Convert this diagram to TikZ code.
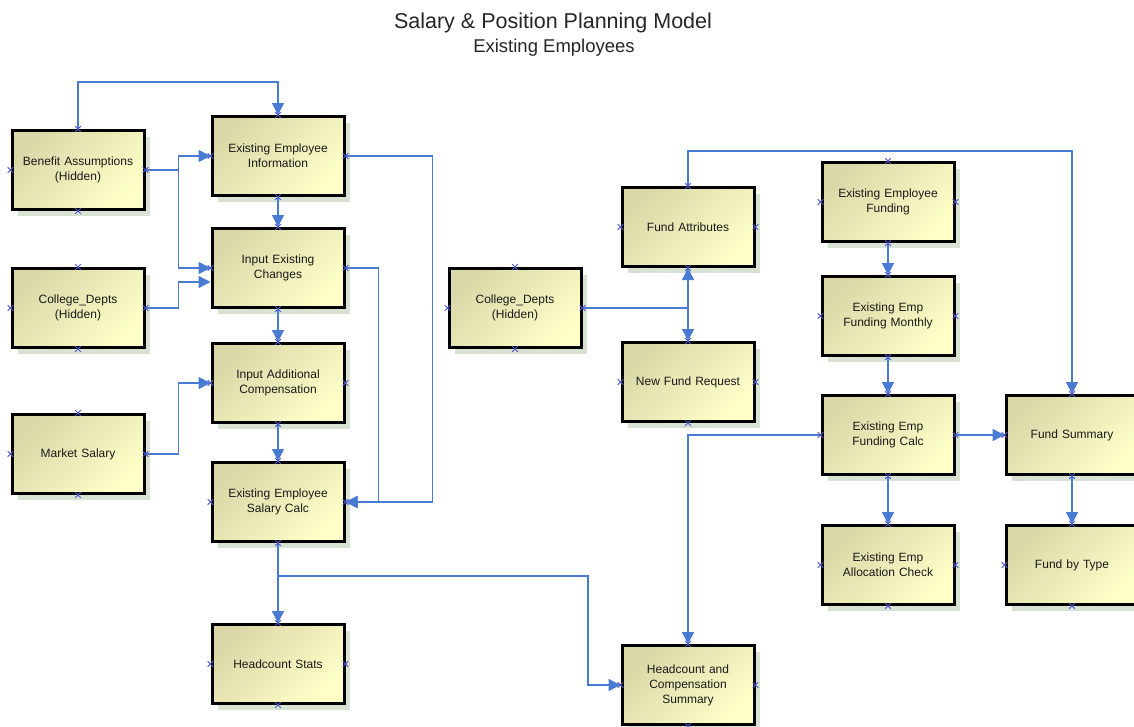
\documentclass[tikz,border=0pt]{standalone}
\usepackage{fontspec}
\setmainfont{Liberation Sans}
\usetikzlibrary{arrows.meta,shadows,calc}

\definecolor{linkblue}{HTML}{4A7BD3}
\definecolor{boxdark}{HTML}{DAD8A8}
\definecolor{boxlight}{HTML}{FFFFC8}
\definecolor{shadowgreen}{HTML}{D8E2D2}
\definecolor{markblue}{HTML}{4A55CF}

\tikzset{
	modelbox/.style={rectangle, draw=black, line width=3pt,
		top color=boxdark, bottom color=boxlight, shading angle=45,
		drop shadow={shadow xshift=6pt, shadow yshift=-6pt, fill=shadowgreen, opacity=1},
		minimum width=132pt, minimum height=79pt, text width=124pt,
		align=center, text=black!90, font=\fontsize{12}{15}\selectfont},
	wire/.style={draw=linkblue, line width=1.4pt},
	link/.style={wire, -{Triangle[length=12pt,width=12pt]}},
	xmark/.style={draw=markblue, line width=1pt}
}

\begin{document}
\begin{tikzpicture}[x=1pt,y=-1pt]
	\useasboundingbox (0,0) rectangle (1134,726);
	% titles
	\node[anchor=base, font=\fontsize{21.5}{24}\selectfont, text=black!85] (title) at (553,28) {Salary \& Position Planning Model};
	\node[anchor=base, font=\fontsize{18.5}{21}\selectfont, text=black!85] (subtitle) at (554,52) {Existing Employees};
	% left column
	\node[modelbox] (ben) at (78,170) {Benefit Assumptions\\(Hidden)};
	\node[modelbox] (coldeptA) at (78,308) {College\_Depts\\(Hidden)};
	\node[modelbox] (mkt) at (78,454) {Market Salary};
	% salary column
	\node[modelbox] (eeinfo) at (278,156) {Existing Employee\\Information};
	\node[modelbox] (inchg) at (278,268) {Input Existing\\Changes};
	\node[modelbox] (inaddl) at (278,383) {Input Additional\\Compensation};
	\node[modelbox] (salcalc) at (278,502) {Existing Employee\\Salary Calc};
	\node[modelbox] (hcstats) at (278,664) {Headcount Stats};
	% fund columns
	\node[modelbox] (coldeptB) at (515,308) {College\_Depts\\(Hidden)};
	\node[modelbox] (fundattr) at (688,227) {Fund Attributes};
	\node[modelbox] (newfund) at (688,382) {New Fund Request};
	\node[modelbox] (hcsum) at (688,685) {Headcount and\\Compensation\\Summary};
	\node[modelbox] (eefund) at (888,202) {Existing Employee\\Funding};
	\node[modelbox] (eemonth) at (888,316) {Existing Emp\\Funding Monthly};
	\node[modelbox] (eecalc) at (888,435) {Existing Emp\\Funding Calc};
	\node[modelbox] (alloc) at (888,565) {Existing Emp\\Allocation Check};
	\node[modelbox] (fundsum) at (1072,435) {Fund Summary};
	\node[modelbox] (fundtype) at (1072,565) {Fund by Type};

	% salary side connectors
	\draw[link] (ben.north) -- ++(0,-47) -| (eeinfo.north);
	\draw[link] (ben.east) -- ++(33,0) |- (eeinfo.west);
	\draw[link] (ben.east) -- ++(33,0) |- (inchg.west);
	\draw[link] (coldeptA.east) -- ++(33,0) |- ($(inchg.west)+(0,14)$);
	\draw[link] (mkt.east) -- ++(33,0) |- (inaddl.west);
	\draw[link] (eeinfo.south) -- (inchg.north);
	\draw[link] (inchg.south) -- (inaddl.north);
	\draw[link] (inaddl.south) -- (salcalc.north);
	\draw[link] (eeinfo.east) -- ++(87,0) |- (salcalc.east);
	\draw[link] (inchg.east) -- ++(33,0) |- (salcalc.east);
	\draw[link] (salcalc.south) -- (hcstats.north);
	\draw[link] (salcalc.south) |- ++(310,33) |- (hcsum.west);
	% fund side connectors
	\draw[wire] (coldeptB.east) -- (coldeptB.east -| fundattr.south);
	\draw[link] (coldeptB.east -| fundattr.south) -- (fundattr.south);
	\draw[link] (coldeptB.east -| fundattr.south) -- (newfund.north);
	\draw[link] (fundattr.north) -- ++(0,-35) -| (fundsum.north);
	\draw[link] (eefund.south) -- (eemonth.north);
	\draw[link] (eemonth.south) -- (eecalc.north);
	\draw[link] (eecalc.south) -- (alloc.north);
	\draw[link] (eecalc.east) -- (fundsum.west);
	\draw[link] (fundsum.south) -- (fundtype.north);
	\draw[link] (eecalc.west) -| (hcsum.north);

	% connection points
	\foreach \n in {ben,coldeptA,mkt,eeinfo,inchg,inaddl,salcalc,hcstats,coldeptB,fundattr,newfund,hcsum,eefund,eemonth,eecalc,alloc,fundsum,fundtype}
	\foreach \a in {north,south,east,west}
	\draw[xmark] (\n.\a) +(-2.8,-2.8) -- +(2.8,2.8) +(-2.8,2.8) -- +(2.8,-2.8);
\end{tikzpicture}
\end{document}
